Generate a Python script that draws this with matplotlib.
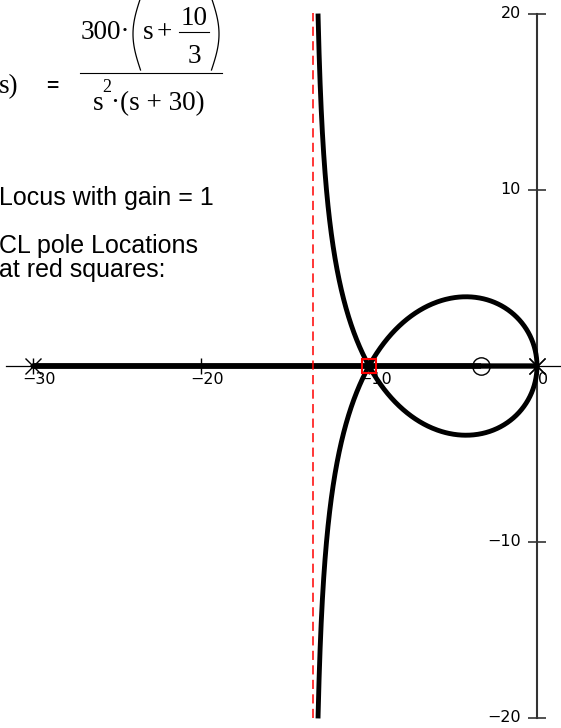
import numpy as np
import matplotlib
matplotlib.use("Agg")
import matplotlib.pyplot as plt
from matplotlib.lines import Line2D

# open loop transfer function G(s) = 300 (s + 10/3) / (s^2 (s + 30))
num = [300.0, 1000.0]
den = [1.0, 30.0, 0.0, 0.0]
poles = [-30.0, 0.0, 0.0]
zeros = [-10.0 / 3.0]
cl_poles = [-10.0]            # closed loop poles at gain = 1
asymptote_x = -40.0 / 3.0

# gain sweep for the locus (dense near the triple root at K = 1)
gains = np.unique(np.concatenate([
    [0.0],
    np.logspace(-7, -0.0005, 1500),
    1 - np.logspace(-1, -12, 1500),
    [1.0],
    1 + np.logspace(-12, 4, 4000),
]))

x_ticks = [-30, -20, -10, 0]
x_tick_labels = ["\u221230", "\u221220", "\u221210", "0"]
y_ticks = [-20, -10, 10, 20]
y_tick_labels = ["\u221220", "\u221210", "10", "20"]

W, H = 561, 728


def locus_branches():
    rows = []
    for k in gains:
        r = np.roots(np.polyadd(den, k * np.array(num)))
        rows.append(sorted(r, key=lambda z: z.imag))
    return np.array(rows)


def fig_text(fig, x, y, s, **kw):
    fig.text(x / W, 1 - y / H, s, **kw)


def fig_line(fig, xs, ys, **kw):
    xs = np.asarray(xs, dtype=float)
    ys = np.asarray(ys, dtype=float)
    fig.add_artist(Line2D(xs / W, 1 - ys / H, transform=fig.transFigure, **kw))


fig = plt.figure(figsize=(W / 100, H / 100), dpi=100)
ax = fig.add_axes([0, 0, 1, 1])
ax.set_xlim(-537 / 16.8, (W - 537) / 16.8)
ax.set_ylim(-20 - 10 / 17.6, 20 + 14 / 17.6)
ax.axis("off")

# axes lines and ticks
ax.plot([-31.6, 2.0], [0, 0], color="black", lw=0.9, zorder=1)
ax.plot([0, 0], [-20, 20], color="#333333", lw=1.5, zorder=1)
ax.plot(x_ticks, [0] * len(x_ticks), ls="none", marker="|", ms=11,
        mew=1.0, color="black", zorder=1)
ax.plot([0] * len(y_ticks), y_ticks, ls="none", marker="_", ms=12.5,
        mew=1.2, color="#333333", zorder=1)
for t, lab in zip(x_ticks, x_tick_labels):
    ax.annotate(lab, (t, 0), xytext=(4.5, -9.5), textcoords="offset points",
                ha="center", va="center", fontsize=11.5, family="DejaVu Sans",
                zorder=2)
for t, lab in zip(y_ticks, y_tick_labels):
    ax.annotate(lab, (0, t), xytext=(-11.5, 0), textcoords="offset points",
                ha="right", va="center", fontsize=11.5, family="DejaVu Sans",
                zorder=2)

# root locus
roots = locus_branches()
for b in range(roots.shape[1]):
    re = roots[:, b].real.copy()
    im = roots[:, b].imag.copy()
    mask = np.abs(im) > 20.05
    re[mask] = np.nan
    im[mask] = np.nan
    ax.plot(re, im, color="black", lw=3.5, solid_capstyle="butt", zorder=3)

ax.plot([asymptote_x, asymptote_x], [-20, 20.05], color="red", lw=1.1,
        dashes=(6, 3.5), zorder=4)

ax.plot(poles, [0] * len(poles), ls="none", marker="x", ms=11, mew=1.0,
        color="black", zorder=5)
ax.plot(zeros, [0] * len(zeros), ls="none", marker="o", ms=12.5, mew=1.0,
        mfc="none", mec="black", zorder=5)
ax.plot(cl_poles, [0] * len(cl_poles), ls="none", marker="s", ms=10, mew=1.5,
        mfc="none", mec="red", zorder=6)

# transfer function text
serif = dict(family="Liberation Serif", color="black")
fs = 19.5
fig_text(fig, -1, 93, "s)", fontsize=fs, va="baseline", **serif)
fig_text(fig, 52, 87, "=", fontsize=15, ha="center", va="center",
         family="Liberation Sans", weight="bold")
fig_text(fig, 81, 39, "300\u00b7", fontsize=fs, va="baseline", **serif)
fig_text(fig, 143, 39, "s", fontsize=fs, va="baseline", **serif)
fig_text(fig, 164, 39, "+", fontsize=fs, ha="center", va="baseline", **serif)
fig_text(fig, 194, 25, "10", fontsize=fs, ha="center", va="baseline", **serif)
fig_text(fig, 194, 63, "3", fontsize=fs, ha="center", va="baseline", **serif)
fig_line(fig, [179, 209], [32, 32], color="black", lw=0.8)
fig_line(fig, [80, 222], [73, 73], color="black", lw=0.8)
tt = np.linspace(0, 1, 60)
fig_line(fig, 140.5 - 7.5 * np.sin(np.pi * tt), -2 + 72 * tt, color="black", lw=0.9)
fig_line(fig, 211.5 + 7.5 * np.sin(np.pi * tt), -2 + 72 * tt, color="black", lw=0.9)
fig_text(fig, 93, 110, "s", fontsize=fs, va="baseline", **serif)
fig_text(fig, 102, 92, "2", fontsize=13, va="baseline", **serif)
fig_text(fig, 111, 110, "\u00b7(s + 30)", fontsize=fs, va="baseline", **serif)

# notes
sans = dict(family="Liberation Sans", fontsize=18, va="baseline", color="black")
fig_text(fig, -1, 205, "Locus with gain = 1", **sans)
fig_text(fig, -1, 253, "CL pole Locations", **sans)
fig_text(fig, -1, 277, "at red squares:", **sans)

fig.savefig("out.png", dpi=100)
